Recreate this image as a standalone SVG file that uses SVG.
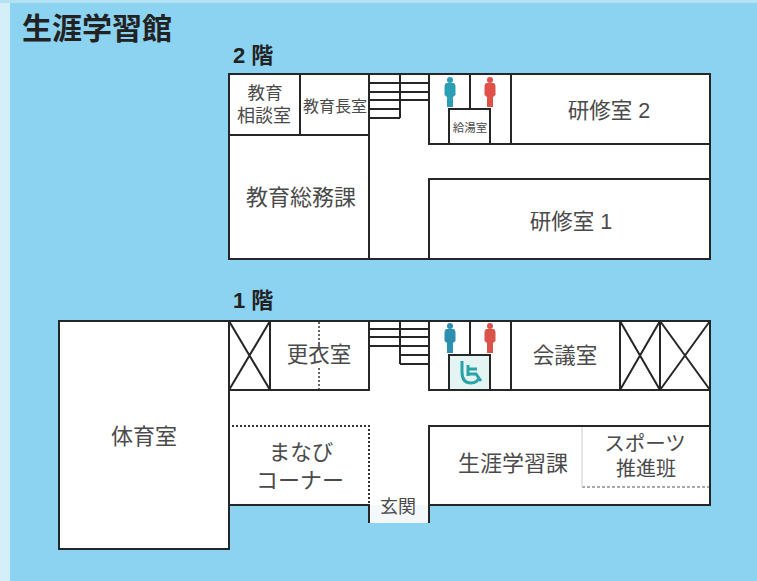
<svg xmlns="http://www.w3.org/2000/svg" width="757" height="581" viewBox="0 0 757 581">
<style>
text{font-family:"Liberation Sans","Noto Sans CJK JP",sans-serif;fill:#4a4a4a;text-anchor:middle}
.t{font-size:21.5px}
.h{font-weight:700;fill:#222;text-anchor:start}
.w{fill:none;stroke:#262626;stroke-width:2}
.r{fill:#fff}
.d{fill:none;stroke:#333;stroke-width:2;stroke-dasharray:2 2}
.f{fill:none;stroke:#555;stroke-width:1;stroke-dasharray:3 2}
</style>
<defs>
<g id="person"><circle cx="0" cy="-12" r="3"/><path d="M-3-9H3Q5.500-9 5.500-5V3L3 5V15H-3V5L-5.500 3V-5Q-5.500-9-3-9Z"/></g>
</defs>
<rect width="757" height="581" fill="#8cd3f1"/>
<rect width="10" height="581" fill="#d5eff9"/>
<rect x="0" y="0" width="757" height="3" fill="#b4e2f5"/>
<rect x="229" y="74" width="481" height="185" class="r"/>
<rect x="59" y="321" width="170" height="228" class="r"/>
<rect x="229" y="321" width="481" height="184" class="r"/>
<rect x="369" y="505" width="60" height="18" fill="#f4f8fa"/>
<text class="h" x="22" y="39" style="font-size:30px">生涯学習館</text>
<text class="h" x="233" y="63" style="font-size:22px">2 階</text>
<text class="h" x="233" y="308" style="font-size:22px">1 階</text>
<g id="walls-2f">
<path class="w" d="M229 74H710V259H229ZM229 135H369M300 74V135M369 74V259M429 74V144H710M429 259V179H710M470 74V109M511 74V144M449 144V109H490V144"/>
<path class="w" d="M369 83H429M369 92H429M369 100H429M369 109H400M369 118H400M400 74V118"/>
</g>
<g id="walls-1f">
<path class="w" d="M229 505V321H710V426H429V505M710 426V505H429M229 505H369V523M429 505V523M59 321H229V549H59ZM229 390H369V321M270 321V390M229 321L270 390M270 321L229 390"/>
<path class="w" d="M369 329H429M369 337H429M369 346H429M400 355H429M400 364H429M400 321V364M429 321V390H710M470 321V355M511 321V390M449 390V355H490V390M620 321V390M660 321V390M620 321L660 390M660 321L620 390M660 321L710 390M710 321L660 390"/>
<path class="d" d="M232 426H369V505"/>
<path class="d" style="stroke-width:1.500" d="M319 322V344M319 368V390"/>
<path class="f" d="M582 487H709"/>
<path d="M582 427V487" stroke="#ddd" stroke-width="1.500" fill="none"/>
</g>
<g id="fixtures">
<use href="#person" x="450" y="92" fill="#2d9fb5"/>
<use href="#person" x="490" y="92" fill="#e2504a"/>
<use href="#person" x="450" y="338" fill="#2d8fb0"/>
<use href="#person" x="490" y="338" fill="#d9534a"/>
<rect x="450" y="356" width="39" height="33" fill="#e4f4f2"/>
<path d="M462 361V372Q462 383 471 383Q477 383 479 378M468 365V376M468 369H477M468 374H476L481 381" fill="none" stroke="#2aa3a8" stroke-width="3"/>
</g>
<g id="room-soudan"><text x="265" y="99" style="font-size:17.500px">教育</text><text x="264" y="122" style="font-size:18px">相談室</text></g>
<g id="room-chou"><text x="335" y="112" style="font-size:16px">教育長室</text></g>
<g id="room-kyuto"><text x="470" y="132" style="font-size:11.500px">給湯室</text></g>
<g id="room-kenshu2"><text x="609" y="118" class="t">研修室 2</text></g>
<g id="room-somu"><text x="301" y="205" class="t" style="font-size:22px">教育総務課</text></g>
<g id="room-kenshu1"><text x="571" y="229" class="t">研修室 1</text></g>
<g id="room-taiiku"><text x="144" y="444" class="t" style="font-size:22px">体育室</text></g>
<g id="room-koui"><text x="319" y="362" class="t">更衣室</text></g>
<g id="room-kaigi"><text x="565" y="363" class="t">会議室</text></g>
<g id="room-manabi"><text x="301" y="460" class="t">まなび</text><text x="300" y="488" class="t" style="font-size:22px">コーナー</text></g>
<g id="room-genkan"><text x="398" y="513" style="font-size:18px">玄関</text></g>
<g id="room-shogai"><text x="513" y="471" class="t" style="font-size:22px">生涯学習課</text></g>
<g id="room-sports"><text x="645" y="451" style="font-size:20.500px">スポーツ</text><text x="646" y="476" style="font-size:20px">推進班</text></g>
</svg>
